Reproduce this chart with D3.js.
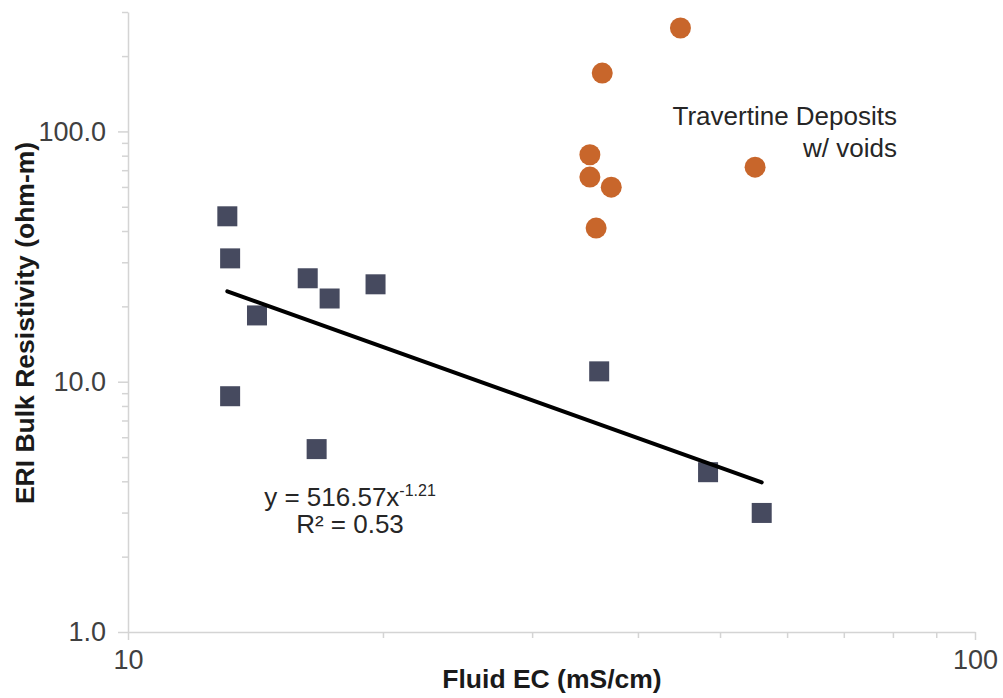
<!DOCTYPE html>
<html lang="en">
<head>
<meta charset="UTF-8">
<title>Fluid EC vs ERI Bulk Resistivity</title>
<style>
  body { margin: 0; background: #fff; }
  svg { font-family: "Liberation Sans", Arial, sans-serif; }
  .axis path, .axis line { stroke: #d4d4d4; stroke-width: 1.5px; }
  .axis text { fill: #404040; font-size: 27px; }
  .title { font-weight: bold; font-size: 26.5px; fill: #1a1a1a; }
  .note { font-size: 26px; fill: #262626; }
</style>
</head>
<body>
<script src="https://d3js.org/d3.v7.min.js"></script>
<script>
// square markers: fluid EC (mS/cm) and bulk resistivity (ohm-m)
const sitesEC  = [13.1, 13.2, 14.2, 13.2, 16.3, 17.3, 19.6, 16.7, 36.0, 48.4, 56.0];
const sitesRes = [45.8, 31.1, 18.4, 8.75, 25.9, 21.5, 24.5, 5.38, 11.0, 4.35, 2.99];

// orange circles: travertine deposits with voids
const travEC  = [44.9, 36.3, 35.1, 35.1, 37.2, 35.7, 55.0];
const travRes = [259, 171, 80.7, 65.7, 59.9, 41.1, 72.0];

// power trendline shown on the chart (y = a * x^b)
const fitA = 516.57;
const fitB = -1.21;

const xTicks = [10, 100];
const xMinor = [20, 30, 40, 50, 60, 70, 80, 90];
const yTicks = [1, 10, 100];
const yMinor = [2, 3, 4, 5, 6, 7, 8, 9, 20, 30, 40, 50, 60, 70, 80, 90, 200, 300];

const W = 1003, H = 698;
const svg = d3.select('body').append('svg')
  .attr('width', W)
  .attr('height', H);

const x = d3.scaleLog().domain([10, 100]).range([128, 975]);
const y = d3.scaleLog().domain([1, 300]).range([632, 12]);

// axes
svg.append('g')
  .attr('class', 'axis')
  .attr('transform', `translate(0,${y(1)})`)
  .call(d3.axisBottom(x).tickValues(xMinor).tickSize(6).tickFormat(''))
  .call(g => g.select('.domain').remove());
svg.append('g')
  .attr('class', 'axis')
  .attr('transform', `translate(0,${y(1)})`)
  .call(d3.axisBottom(x).tickValues(xTicks).tickSize(8).tickSizeOuter(0).tickPadding(10)
    .tickFormat(d3.format('d')));

svg.append('g')
  .attr('class', 'axis')
  .attr('transform', `translate(${x(10)},0)`)
  .call(d3.axisLeft(y).tickValues(yMinor).tickSize(6).tickFormat(''))
  .call(g => g.select('.domain').remove());
svg.append('g')
  .attr('class', 'axis')
  .attr('transform', `translate(${x(10)},0)`)
  .call(d3.axisLeft(y).tickValues(yTicks).tickSize(10).tickSizeOuter(0).tickPadding(12)
    .tickFormat(d3.format('.1f')));

// squares
const sq = 20;
svg.append('g').selectAll('rect')
  .data(sitesEC.map((v, i) => [v, sitesRes[i]]))
  .join('rect')
  .attr('x', d => x(d[0]) - sq / 2)
  .attr('y', d => y(d[1]) - sq / 2)
  .attr('width', sq)
  .attr('height', sq)
  .attr('fill', '#464a5f');

// circles
svg.append('g').selectAll('circle')
  .data(travEC.map((v, i) => [v, travRes[i]]))
  .join('circle')
  .attr('cx', d => x(d[0]))
  .attr('cy', d => y(d[1]))
  .attr('r', 10.5)
  .attr('fill', '#c8662b');

// trendline across the square data range, drawn over the markers
const ext = d3.extent(sitesEC);
const fitPts = ext.map(v => [v, fitA * Math.pow(v, fitB)]);
svg.append('path')
  .datum(fitPts)
  .attr('fill', 'none')
  .attr('stroke', '#000')
  .attr('stroke-width', 4)
  .attr('stroke-linecap', 'round')
  .attr('d', d3.line().x(d => x(d[0])).y(d => y(d[1])));

// annotation
svg.append('text').attr('class', 'note')
  .attr('x', 897).attr('y', 125).attr('text-anchor', 'end')
  .text('Travertine Deposits');
svg.append('text').attr('class', 'note')
  .attr('x', 897).attr('y', 157).attr('text-anchor', 'end')
  .text('w/ voids');

// equation
const eq = svg.append('text').attr('class', 'note')
  .attr('x', 350).attr('y', 506).attr('text-anchor', 'middle');
eq.append('tspan').text(`y = ${fitA}x`);
eq.append('tspan').attr('dy', -10).attr('font-size', 16).text(fitB);
svg.append('text').attr('class', 'note')
  .attr('x', 350).attr('y', 533).attr('text-anchor', 'middle')
  .text('R² = 0.53');

// axis titles
svg.append('text').attr('class', 'title')
  .attr('x', 552).attr('y', 688).attr('text-anchor', 'middle')
  .text('Fluid EC (mS/cm)');
svg.append('text').attr('class', 'title')
  .attr('transform', 'translate(34,323) rotate(-90)')
  .attr('text-anchor', 'middle')
  .text('ERI Bulk Resistivity (ohm-m)');
</script>
</body>
</html>
